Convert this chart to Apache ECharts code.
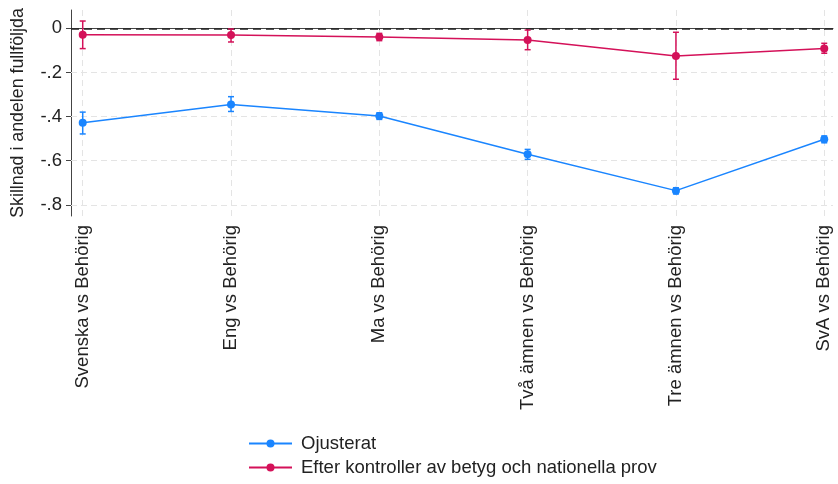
<!DOCTYPE html>
<html>
<head>
<meta charset="utf-8">
<script src="https://cdn.jsdelivr.net/npm/echarts@6/dist/echarts.min.js"></script>
<style>html,body{margin:0;padding:0;background:#fff}#c{width:838px;height:484px}</style>
</head>
<body>
<div id="c"></div>
<script>
var categories = ['Svenska vs Behörig','Eng vs Behörig','Ma vs Behörig','Två ämnen vs Behörig','Tre ämnen vs Behörig','SvA vs Behörig'];
var seriesNames = ['Ojusterat','Efter kontroller av betyg och nationella prov'];
var ojusterat = [-0.428,-0.345,-0.398,-0.571,-0.736,-0.503];
var ojusteratLow = [-0.479,-0.377,-0.413,-0.594,-0.751,-0.519];
var ojusteratHigh = [-0.380,-0.310,-0.383,-0.549,-0.723,-0.488];
var efter = [-0.029,-0.030,-0.039,-0.053,-0.126,-0.092];
var efterLow = [-0.092,-0.062,-0.056,-0.097,-0.231,-0.113];
var efterHigh = [0.033,-0.003,-0.023,-0.008,-0.018,-0.068];
var yTicks = [0,-0.2,-0.4,-0.6,-0.8];
var yTickLabels = ['0','-.2','-.4','-.6','-.8'];

var blue = '#1A85FF', red = '#D41159';
var font = 'Liberation Sans, Arial, sans-serif';
var fs = 18.5;
var xPos = categories.map(function(_, i){ return i + 1; });

function pts(vals){ return vals.map(function(v,i){ return [xPos[i], v]; }); }
function bars(lo, hi){ return lo.map(function(v,i){ return [xPos[i], v, hi[i]]; }); }

function errRender(color){
  return function(params, api){
    var x = api.value(0);
    var p1 = api.coord([x, api.value(1)]);
    var p2 = api.coord([x, api.value(2)]);
    var w = 3;
    var st = {stroke: color, lineWidth: 1.5};
    return {type:'group', children:[
      {type:'line', shape:{x1:p1[0],y1:p1[1],x2:p2[0],y2:p2[1]}, style:st},
      {type:'line', shape:{x1:p1[0]-w,y1:p1[1],x2:p1[0]+w,y2:p1[1]}, style:st},
      {type:'line', shape:{x1:p2[0]-w,y1:p2[1],x2:p2[0]+w,y2:p2[1]}, style:st}
    ]};
  };
}

var chart = echarts.init(document.getElementById('c'), null, {renderer:'canvas'});
var gridStyle = {color:'#e4e4e4', width:1, type:[6,4]};
chart.setOption({
  animation: false,
  textStyle: {fontFamily: font},
  grid: {left:71, right:5, top:10, bottom:268, containLabel:false, outerBoundsMode:'none'},
  legend: {
    orient:'vertical', left:248, top:434, padding:0, itemWidth:43, itemHeight:10, itemGap:5,
    height: 60,
    textStyle:{fontSize:fs, color:'#222', fontFamily:font, padding:[0,0,0,4]},
    data: seriesNames
  },
  xAxis: {
    type:'value', min:0.921, max:6.059,
    axisLine:{show:true, lineStyle:{color:'#444', width:1}},
    axisTick:{show:true, customValues:xPos, length:6, lineStyle:{color:'#444'}},
    axisLabel:{customValues:xPos, rotate:90, margin:9, fontSize:fs, color:'#222', fontFamily:font,
      formatter:function(v){ return categories[Math.round(v)-1] || ''; }},
    splitLine:{show:false}
  },
  yAxis: {
    type:'value', min:-0.851, max:0.083,
    name:'Skillnad i andelen fullföljda', nameLocation:'middle', nameGap:44, nameRotate:90,
    nameTextStyle:{fontSize:17.8, color:'#222', fontFamily:font},
    axisLine:{show:true, lineStyle:{color:'#444', width:1}},
    axisTick:{show:true, customValues:yTicks, length:5, lineStyle:{color:'#444'}},
    axisLabel:{customValues:yTicks, margin:9, fontSize:fs, color:'#222', fontFamily:font,
      formatter:function(v){ var i = yTicks.findIndex(function(t){return Math.abs(t-v)<1e-6;}); return i>=0 ? yTickLabels[i] : ''; }},
    splitLine:{show:false}
  },
  series: [
    {type:'line', name:'grid', data:[], silent:true, z:1,
      markLine:{silent:true, z:1, symbol:'none', label:{show:false}, lineStyle:gridStyle,
        data: xPos.map(function(x){ return {xAxis:x}; }).concat(yTicks.filter(function(t){return t!==0;}).map(function(t){ return {yAxis:t}; }))}
    },
    {type:'line', name:'zero', data:[], silent:true, z:2,
      markLine:{silent:true, z:2, symbol:'none', label:{show:false}, lineStyle:{color:'#222', width:1.5, type:[8,5]}, data:[{yAxis:0}]}
    },
    {type:'custom', name:'ci1', data:bars(ojusteratLow, ojusteratHigh), renderItem:errRender(blue), z:3, silent:true},
    {type:'custom', name:'ci2', data:bars(efterLow, efterHigh), renderItem:errRender(red), z:3, silent:true},
    {type:'line', name:seriesNames[0], data:pts(ojusterat), color:blue, symbol:'circle', symbolSize:8,
      lineStyle:{width:1.5, color:blue}, itemStyle:{color:blue}, z:4},
    {type:'line', name:seriesNames[1], data:pts(efter), color:red, symbol:'circle', symbolSize:8,
      lineStyle:{width:1.5, color:red}, itemStyle:{color:red}, z:4}
  ]
});
</script>
</body>
</html>
